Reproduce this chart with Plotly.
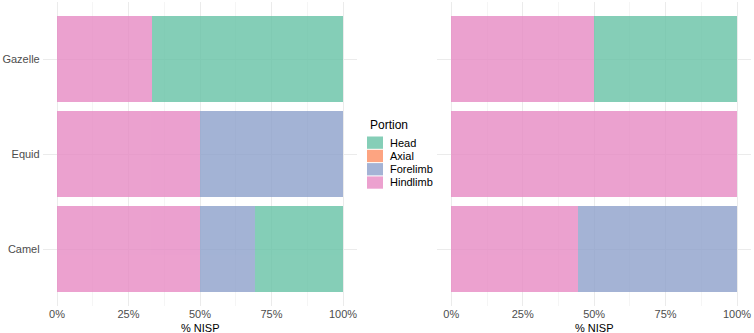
import plotly.graph_objects as go

species = ["Camel", "Equid", "Gazelle"]
portions = ["Head", "Axial", "Forelimb", "Hindlimb"]
colors = {"Head": "#66C2A5", "Axial": "#FC8D62", "Forelimb": "#8DA0CB", "Hindlimb": "#E78AC3"}

# proportions per panel (Camel, Equid, Gazelle)
left = {
    "Hindlimb": [0.5, 0.5, 1/3],
    "Forelimb": [5/26, 0.5, 0.0],
    "Axial": [0.0, 0.0, 0.0],
    "Head": [8/26, 0.0, 2/3],
}
right = {
    "Hindlimb": [4/9, 1.0, 0.5],
    "Forelimb": [5/9, 0.0, 0.0],
    "Axial": [0.0, 0.0, 0.0],
    "Head": [0.0, 0.0, 0.5],
}
xticks = [0, 0.25, 0.5, 0.75, 1.0]
xticklabels = ["0%", "25%", "50%", "75%", "100%"]

W, H = 754, 333
fig = go.Figure()
stack_order = ["Hindlimb", "Forelimb", "Axial", "Head"]
for data, xa, ya in [(left, "x", "y"), (right, "x2", "y2")]:
    for p in stack_order:
        fig.add_trace(go.Bar(
            y=species, x=data[p], orientation="h", xaxis=xa, yaxis=ya,
            marker=dict(color=colors[p], line=dict(width=0)), opacity=0.8,
            showlegend=False, name=p))

font = "Liberation Sans, Arial, sans-serif"
grid = "#EBEBEB"
minor_grid = "#F5F5F5"
ydom = [1 - 306 / H, 1 - 2 / H]
tickfont = dict(family=font, size=11, color="#4D4D4D")
axcommon = dict(range=[-0.05, 1.05], tickvals=xticks, ticktext=xticklabels,
                showgrid=True, gridcolor=grid, gridwidth=1, zeroline=False,
                showline=False, ticks="", automargin=False, tickfont=tickfont,
                minor=dict(showgrid=True, gridcolor=minor_grid, tickvals=[0.125, 0.375, 0.625, 0.875]),
                fixedrange=True)
ycommon = dict(domain=ydom, range=[-0.6, 2.6], categoryorder="array", categoryarray=species,
               showgrid=True, gridcolor=grid, zeroline=False, ticks="", automargin=False,
               tickfont=tickfont, fixedrange=True)
fig.update_layout(
    width=W, height=H, margin=dict(l=0, r=0, t=0, b=0),
    paper_bgcolor="white", plot_bgcolor="white",
    barmode="stack", bargap=0.1, showlegend=False,
    xaxis=dict(domain=[42.7 / W, 357.3 / W], anchor="y", **axcommon),
    xaxis2=dict(domain=[437 / W, 751.3 / W], anchor="y2", **axcommon),
    yaxis=dict(anchor="x", ticklabelstandoff=2, **ycommon),
    yaxis2=dict(anchor="x2", showticklabels=False, **ycommon),
    font=dict(family=font),
)

# axis titles
for cx in [(57 + 343) / 2 / W, (451 + 737) / 2 / W]:
    fig.add_annotation(x=cx, y=1 - 328 / H, xref="paper", yref="paper", text="% NISP",
                       showarrow=False, font=dict(family=font, size=11, color="black"),
                       xanchor="center", yanchor="middle")

# legend (manual)
fig.add_annotation(x=368 / W, y=1 - 125 / H, xref="paper", yref="paper", text="Portion",
                   showarrow=False, font=dict(family=font, size=12, color="black"),
                   xanchor="left", yanchor="middle")
for i, p in enumerate(portions):
    top = 136.5 + i * 13.3
    fig.add_shape(type="rect", xref="paper", yref="paper",
                  x0=367 / W, x1=383 / W, y0=1 - (top + 12.3) / H, y1=1 - top / H,
                  fillcolor=colors[p], opacity=0.8, line=dict(width=0))
    fig.add_annotation(x=388 / W, y=1 - (top + 6.0) / H, xref="paper", yref="paper", text=p,
                       showarrow=False, font=dict(family=font, size=11, color="black"),
                       xanchor="left", yanchor="middle")

fig.write_html("out.html")
